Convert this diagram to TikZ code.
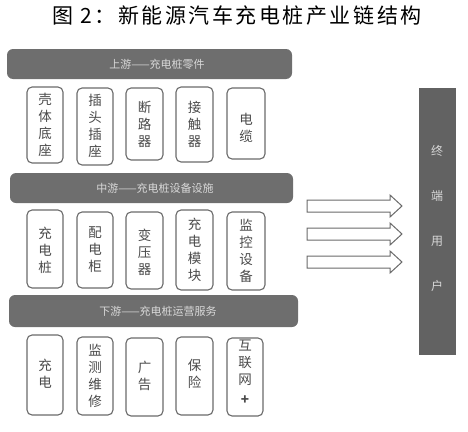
\documentclass[tikz,border=0pt]{standalone}
\usepackage{fontspec}
\setmainfont{Noto Sans CJK SC}
\newfontfamily\titlefont[LetterSpace=12]{Noto Sans CJK SC}
\usetikzlibrary{positioning}
\definecolor{barfill}{HTML}{6E6E6E}
\definecolor{endfill}{HTML}{626262}
\definecolor{bartext}{HTML}{D8D8D8}
\definecolor{boxline}{HTML}{6A6A6A}
\definecolor{boxtext}{HTML}{4A4A4A}
\tikzset{
  x=1pt, y=-1pt,
  stagebar/.style={fill=barfill, rounded corners=6pt, inner sep=0pt},
  bartxt/.style={text=bartext, font=\fontsize{11}{13}\selectfont},
  itembox/.style={draw=boxline, line width=1.1pt, rounded corners=5pt, inner sep=0pt, fill=white},
  itemtxt/.style={text=boxtext, align=center, font=\fontsize{13.5}{17}\selectfont, inner sep=0pt},
  flowarrow/.style={draw=boxline, line width=1pt, fill=white, line join=miter},
}
\begin{document}
\begin{tikzpicture}
\useasboundingbox (0,0) rectangle (468,431);
% title
\node[font=\titlefont\fontsize{21}{24}\selectfont, text=black] (title) at (237,16) {图 2：新能源汽车充电桩产业链结构};

% stage bars
\fill[stagebar] (7,49) rectangle (292,79);
\node[bartxt] (b1) at (157,64) {上游——充电桩零件};
\fill[stagebar] (10,173) rectangle (293,203);
\node[bartxt] (b2) at (155,188) {中游——充电桩设备设施};
\fill[stagebar] (9,295) rectangle (298,327);
\node[bartxt] (b3) at (158,311) {下游——充电桩运营服务};

% end user bar
\fill[endfill] (419,88) rectangle (456,355);
\node[bartxt, align=center, font=\fontsize{12}{45}\selectfont] (end) at (437,218) {终\\端\\用\\户};

% row 1
\draw[itembox] (27,87) rectangle (63,163);
\node[itemtxt] (r1a) at (45,125) {壳\\体\\底\\座};
\draw[itembox] (77,88) rectangle (113,165);
\node[itemtxt] (r1b) at (95,126) {插\\头\\插\\座};
\draw[itembox] (126,88) rectangle (163,160);
\node[itemtxt] (r1c) at (144.5,124) {断\\路\\器};
\draw[itembox] (176,87) rectangle (213,162);
\node[itemtxt] (r1d) at (194.5,124) {接\\触\\器};
\draw[itembox] (227,88) rectangle (265,159);
\node[itemtxt] (r1e) at (246,128) {电\\缆};

% row 2
\draw[itembox] (27,210) rectangle (63,288);
\node[itemtxt] (r2a) at (45,250) {充\\电\\桩};
\draw[itembox] (77,212) rectangle (113,288);
\node[itemtxt] (r2b) at (95,250) {配\\电\\柜};
\draw[itembox] (126,212) rectangle (163,289);
\node[itemtxt] (r2c) at (144.5,252) {变\\压\\器};
\draw[itembox] (176,210) rectangle (213,290);
\node[itemtxt] (r2d) at (194.5,250) {充\\电\\模\\块};
\draw[itembox] (227,212) rectangle (265,290);
\node[itemtxt] (r2e) at (246,251) {监\\控\\设\\备};

% row 3
\draw[itembox] (27,335) rectangle (63,415);
\node[itemtxt] (r3a) at (45,374) {充\\电};
\draw[itembox] (77,337) rectangle (113,415);
\node[itemtxt] (r3b) at (95,376) {监\\测\\维\\修};
\draw[itembox] (126,338) rectangle (163,416);
\node[itemtxt] (r3c) at (144.5,376) {广\\告};
\draw[itembox] (176,337) rectangle (213,415);
\node[itemtxt] (r3d) at (194.5,374) {保\\险};
\draw[itembox] (227,338) rectangle (263,416);
\node[itemtxt] (r3e) at (245,372) {互\\联\\网\\[3pt]\textbf{+}};

% arrows
\foreach \yy in {206,234,262} {
  \draw[flowarrow] (307,\yy-6) -- (390,\yy-6) -- (390,\yy-11) -- (402,\yy) -- (390,\yy+11) -- (390,\yy+6) -- (307,\yy+6) -- cycle;
}
\end{tikzpicture}
\end{document}
